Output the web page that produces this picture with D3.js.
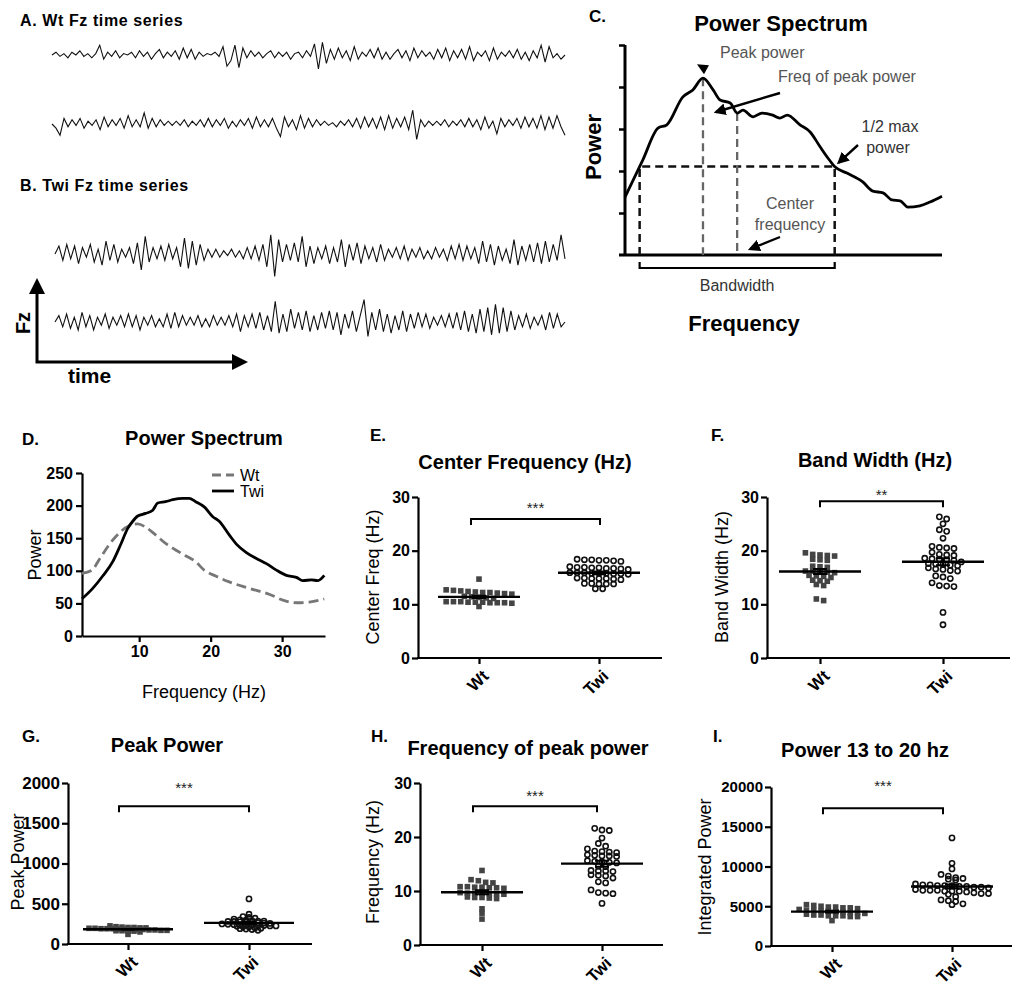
<!DOCTYPE html>
<meta charset="utf-8">
<style>
body { margin: 0; background: #fff; }
text { font-family: "Liberation Sans", Arial, sans-serif; }
</style>
<svg width="1024" height="992"></svg>
<script src="https://cdn.jsdelivr.net/npm/d3@7"></script>
<script>
// ---------- data ----------
// Fz traces (arbitrary units)
var traceWt1 = [0,2,-1,1,-2,2,0,3,-1,1,-2,1,7,-3,2,-1,3,-2,1,0,2,-2,3,-1,2,-3,1,4,-2,2,-1,3,-3,5,-2,4,-3,2,-1,1,0,2,-1,6,-8,-4,7,-9,5,-2,3,-1,2,-2,1,3,-2,2,-1,2,-3,1,2,-2,3,-1,8,-10,9,-6,4,-3,5,-2,3,-4,6,-3,2,-1,4,-2,5,-3,2,-3,1,4,-2,3,-4,5,-2,3,-1,2,-3,4,-2,5,-4,3,-2,4,-3,6,-4,2,-1,3,-4,5,-3,2,-1,3,-2,4,-3,2,-4,3,-2,7,-5,6,-2,1,-3,0];
var traceWt2 = [0,-3,-8,4,-2,3,-1,4,-3,2,-1,3,-4,5,-2,3,-1,4,-3,6,-2,3,-2,8,-3,4,-2,3,-1,2,-1,2,-1,3,-2,2,-1,3,-2,4,-2,3,-1,4,-3,2,-2,3,-1,4,-3,5,-2,3,-2,4,-3,-9,5,-2,3,-4,6,-3,4,-2,3,-1,2,-1,1,-2,2,-1,3,-2,4,-3,5,-2,4,-3,5,-4,6,-3,4,-2,5,-4,10,-11,3,-2,2,-1,2,-1,3,-2,2,-1,3,-2,4,-2,3,-4,5,-3,2,-7,4,-2,3,-1,4,-3,5,-2,4,-3,6,-4,5,-3,6,-2,-8];
var traceTwi1 = [0,5,-4,6,-3,5,-6,4,-2,6,-5,3,-7,8,-4,6,-5,3,-2,4,-6,7,-10,11,-5,4,-3,5,-4,6,-3,4,-8,10,-9,8,-7,6,-4,3,-2,3,-2,2,-1,3,-2,2,-3,4,-3,5,-4,6,-8,12,-14,9,-5,6,-4,7,-5,11,-8,5,-6,4,-3,5,-6,4,-5,9,-8,6,-4,7,-6,5,-3,4,-5,6,-4,3,-2,4,-3,5,-4,3,-2,4,-3,2,-3,4,-2,3,-4,5,-3,6,-4,5,-3,4,-6,8,-5,6,-7,5,-4,3,-6,9,-7,5,-4,6,-5,7,-6,8,-5,6,-4,12,-3];
var traceTwi2 = [0,4,-3,5,-4,3,-5,6,-3,4,-5,3,-2,5,-4,3,-2,4,-3,5,-3,4,-5,3,-2,4,-3,2,-3,5,-4,6,-3,4,-2,3,-2,4,-3,2,-3,4,-2,3,-2,4,-3,5,-6,4,-3,5,-4,6,-5,4,-6,13,-7,5,-6,8,-4,6,-5,7,-6,4,-5,6,-4,7,-5,6,-8,5,-4,7,-6,4,14,-9,6,-5,8,-6,5,-7,4,-5,7,-6,5,-4,6,-3,5,-4,3,-2,4,-3,5,-4,6,-5,7,-6,5,-7,8,-6,9,-8,11,-7,9,-6,7,-5,4,-3,5,-4,3,-2,4,-5,6,-4,5,-3,0];

// panel C schematic spectrum (arbitrary units)
var cFreq  = [0,2.8,5.2,6.6,9.1,10.7,12.3,13.9,15.0,16.6,17.7,18.6,20.2,21.6,23.3,24.4,25.6,27.6,29.2,30.8,32.0,33.1,35.0,37.5,39.1,40.7,42.1,43.4,44.6,46.5,48.1,50];
var cPower = [1.38,2.26,3.02,3.10,3.76,3.93,4.21,3.93,3.69,3.62,3.38,3.45,3.29,3.38,3.33,3.26,3.33,3.10,2.93,2.57,2.31,2.10,1.95,1.74,1.52,1.48,1.31,1.29,1.14,1.17,1.26,1.40];

// panel D spectra
var dFreqWt  = [2,3.4,4.4,5.8,7.2,8.6,9.8,10.9,12.3,13.7,15.1,16.5,17.9,19.1,20.7,22.6,24.5,26.4,28.2,30.1,32,33.8,35.9];
var dPowWt   = [96,101,117,140,158,169,172,167,155,142,132,123,114,101,92,83,76,70,64,55,51,52,57];
var dFreqTwi = [2,3.5,4.9,6.3,7.4,8.4,9.1,9.8,10.9,11.9,12.6,13.7,14.7,16.1,17,17.9,19.1,20.3,21.2,22.6,23.6,25,26.4,27.8,29.2,30.6,32,32.9,34.1,35,35.9];
var dPowTwi  = [57,73,92,114,140,165,176,184,188,193,204,206,209,211,211,206,198,183,176,155,141,128,119,111,101,93,90,85,86,85,93];
var dXTicks = [10,20,30];
var dYTicks = [0,50,100,150,200,250];

var groups = ["Wt", "Twi"];

// E. center frequency (Hz)
var cfWt  = [14.7,12.7,12.6,12.5,12.4,12.3,12.2,12.2,12.1,12.0,11.9,11.5,11.4,11.3,11.2,11.1,10.5,10.5,10.4,10.4,10.3,10.3,10.4,10.5,10.2,10.3,9.6];
var cfTwi = [18.4,18.3,18.3,18.2,18.2,18.1,18.0,17.0,16.9,16.9,16.8,16.8,16.7,16.7,16.6,16.5,15.9,15.9,15.9,15.8,15.8,15.8,15.7,15.7,15.6,14.9,14.9,14.8,14.8,14.8,14.7,14.6,13.9,13.9,13.8,13.8,13.8,12.9,12.9];
// F. band width (Hz)
var bwWt  = [19.6,19.3,19.2,19.1,19.0,18.4,18.3,18.2,17.1,17.0,16.9,16.2,16.2,16.1,16.0,15.9,15.4,15.3,15.2,15.0,14.5,14.4,14.3,13.7,13.5,11.0,10.7];
var bwTwi = [26.3,25.9,25.0,23.9,23.6,22.3,20.8,20.6,20.5,20.4,19.7,19.3,19.2,19.1,18.6,18.5,18.4,18.3,18.2,17.9,17.6,17.5,17.4,17.3,17.2,16.8,16.6,16.5,16.3,16.2,15.3,15.1,14.8,14.0,13.5,13.4,13.3,8.5,6.2];
// G. peak power
var ppWt  = [225,215,210,205,205,200,200,195,195,190,190,190,185,185,185,180,180,175,175,170,170,165,165,160,160,150,120];
var ppTwi = [560,370,340,330,320,310,300,295,290,285,285,280,280,275,270,270,265,260,255,250,245,240,240,235,235,230,230,225,225,220,215,210,200,195,190,185,180,170];
// H. frequency of peak power (Hz)
var fpWt  = [13.8,12.1,11.9,11.6,11.5,10.8,10.7,10.6,10.5,10.6,10.8,10.7,9.7,9.6,9.6,9.6,9.5,9.5,9.4,8.9,8.8,8.8,8.7,8.6,6.7,5.9,4.8];
var fpTwi = [21.6,21.3,21.2,19.8,18.8,18.3,17.8,17.4,17.3,17.2,17.1,16.7,16.6,16.5,16.5,16.4,15.6,15.5,15.4,15.3,15.2,14.6,14.5,13.8,13.7,13.7,13.6,13.0,12.9,12.8,12.4,11.7,11.5,10.2,9.7,9.6,9.5,7.7];
// I. integrated power 13-20 Hz
var ipWt  = [5200,5100,5000,4900,4900,4800,4800,4700,4600,4500,4500,4400,4400,4300,4300,4200,4200,4100,4000,3900,3900,3800,3800,3800,3700,3700,3200];
var ipTwi = [13600,10400,9700,9000,8800,8600,8500,8400,8300,7800,7700,7700,7600,7600,7600,7500,7500,7400,7400,7300,7100,7000,7000,7000,6900,6900,6900,6800,6700,6600,6600,6500,6200,5800,5700,5600,5300,5200];

var hzTicks = [0,10,20,30];
var peakTicks = [0,500,1000,1500,2000];
var intTicks = [0,5000,10000,15000,20000];

// ---------- drawing ----------
var svg = d3.select("svg");
var FONT = '"Liberation Sans", Arial, sans-serif';
var defs = svg.append("defs");
defs.append("marker").attr("id", "ah").attr("viewBox", "0 0 10 10")
  .attr("refX", 8).attr("refY", 5).attr("markerWidth", 5).attr("markerHeight", 5)
  .attr("orient", "auto")
  .append("path").attr("d", "M0,0L10,5L0,10z").attr("fill", "#000");

function label(x, y, s, size, weight, anchor, fill) {
  return svg.append("text").attr("x", x).attr("y", y).text(s)
    .attr("font-size", size).attr("font-weight", weight || "normal")
    .attr("text-anchor", anchor || "start").attr("fill", fill || "#000");
}
function vlabel(x, y, s, size, weight) {
  return svg.append("text").attr("transform", "translate(" + x + "," + y + ") rotate(-90)")
    .attr("text-anchor", "middle").attr("dy", "0.35em").text(s)
    .attr("font-size", size).attr("font-weight", weight || "normal");
}

// A / B traces
function trace(vals, x0, x1, cy, amp) {
  var x = d3.scaleLinear().domain([0, vals.length - 1]).range([x0, x1]);
  var y = d3.scaleLinear().domain([-10, 10]).range([cy + amp, cy - amp]);
  svg.append("path").datum(vals)
    .attr("d", d3.line().x(function(d, i) { return x(i); }).y(function(d) { return y(d); }))
    .attr("fill", "none").attr("stroke", "#111").attr("stroke-width", 1.1);
}
label(20, 26, "A. Wt Fz time series", 16, "bold").attr("letter-spacing", 0.6);
trace(traceWt1, 52, 565, 55, 14);
trace(traceWt2, 52, 565, 124, 14);
label(20, 191, "B. Twi Fz time series", 16, "bold").attr("letter-spacing", 0.6);
trace(traceTwi1, 55, 565, 254, 16);
trace(traceTwi2, 55, 565, 322, 16);
svg.append("path").attr("d", "M37,292V362H234").attr("fill", "none").attr("stroke", "#000").attr("stroke-width", 3);
svg.append("path").attr("d", "M29,294L37,278L45,294Z").attr("fill", "#000");
svg.append("path").attr("d", "M232,354L248,362L232,370Z").attr("fill", "#000");
vlabel(23, 323, "Fz", 20, "bold");
label(68, 383, "time", 21, "bold");

// C schematic
(function() {
  var x = d3.scaleLinear().domain([0, 50]).range([625, 942]);
  var y = d3.scaleLinear().domain([0, 5]).range([255, 45]);
  label(589, 22, "C.", 17, "bold");
  label(781, 31, "Power Spectrum", 22, "bold", "middle");
  vlabel(593, 147, "Power", 22, "bold");
  label(744, 331, "Frequency", 22, "bold", "middle");
  var ax = svg.append("g").attr("transform", "translate(625,0)")
    .call(d3.axisLeft(y).tickValues([1, 2, 3, 4, 5]).tickFormat("").tickSize(6).tickSizeOuter(0));
  ax.select(".domain").remove();
  ax.selectAll("line").attr("stroke-width", 2.5);
  svg.append("path").attr("d", "M" + x(0) + "," + y(5) + "V" + y(0)).attr("stroke", "#000").attr("stroke-width", 3);
  svg.append("path").attr("d", "M619," + y(0) + "H" + x(50)).attr("stroke", "#000").attr("stroke-width", 3);

  var pts = cFreq.map(function(f, i) { return [f, cPower[i]]; });
  var ip = d3.maxIndex(cPower), half = cPower[ip] / 2;
  function cross(a, b) { return a[0] + (half - a[1]) / (b[1] - a[1]) * (b[0] - a[0]); }
  var li = pts.findIndex(function(p) { return p[1] >= half; });
  var fL = li > 0 ? cross(pts[li - 1], pts[li]) : pts[0][0];
  var ri = ip; while (ri < pts.length - 1 && pts[ri + 1][1] >= half) ri++;
  var fR = cross(pts[ri], pts[ri + 1]);
  var fC = (fL + fR) / 2;
  var pC = d3.scaleLinear().domain(cFreq).range(cPower)(fC);

  function dash(d, col, w) {
    svg.append("path").attr("d", d).attr("fill", "none").attr("stroke", col)
      .attr("stroke-width", w).attr("stroke-dasharray", "8,5");
  }
  dash("M" + x(fL) + "," + y(0) + "V" + y(half) + "H" + x(fR) + "V" + y(0), "#111", 2.5);
  dash("M" + x(cFreq[ip]) + "," + y(cPower[ip]) + "V" + y(0), "#666", 2.3);
  dash("M" + x(fC) + "," + y(pC) + "V" + y(0), "#666", 2.3);

  svg.append("path").datum(pts)
    .attr("d", d3.line().x(function(d) { return x(d[0]); }).y(function(d) { return y(d[1]); }).curve(d3.curveMonotoneX))
    .attr("fill", "none").attr("stroke", "#000").attr("stroke-width", 2.8);

  svg.append("path").attr("d", "M" + x(fL) + ",262V268H" + x(fR) + "V262")
    .attr("fill", "none").attr("stroke", "#000").attr("stroke-width", 2.2);
  label((x(fL) + x(fR)) / 2, 291, "Bandwidth", 16, "normal", "middle", "#333");

  var px = x(cFreq[ip]), py = y(cPower[ip]);
  svg.append("path").attr("d", "M" + (px - 6) + "," + (py - 14) + "L" + (px + 6) + "," + (py - 13) + "L" + (px + 1) + "," + (py - 4) + "Z").attr("fill", "#000");
  label(720, 58, "Peak power", 16, "normal", "start", "#555");
  label(778, 82, "Freq of peak power", 16, "normal", "start", "#555");
  function arrow(x1, y1, x2, y2) {
    svg.append("line").attr("x1", x1).attr("y1", y1).attr("x2", x2).attr("y2", y2)
      .attr("stroke", "#000").attr("stroke-width", 2.4).attr("marker-end", "url(#ah)");
  }
  arrow(780, 93, 716, 112);
  label(890, 132, "1/2 max", 16, "normal", "middle", "#333");
  label(888, 153, "power", 16, "normal", "middle", "#333");
  arrow(858, 145, x(fR) + 4, y(half) - 4);
  label(790, 209, "Center", 16, "normal", "middle", "#555");
  label(790, 230, "frequency", 16, "normal", "middle", "#555");
  arrow(780, 237, x(fC) + 13, 249);
})();

function styleAxis(a, size) {
  a.selectAll("path,line").attr("stroke", "#000").attr("stroke-width", 2.2);
  a.selectAll("text").attr("font-size", size).attr("font-weight", "bold").attr("fill", "#000")
    .style("font-family", FONT);
}

// D power spectrum
(function() {
  var x = d3.scaleLinear().domain([2, 36]).range([82, 325]);
  var y = d3.scaleLinear().domain([0, 250]).range([636, 473]);
  label(22, 445, "D.", 17, "bold");
  label(204, 445, "Power Spectrum", 20, "bold", "middle");
  vlabel(35, 555, "Power", 18);
  label(204, 698, "Frequency (Hz)", 18, "normal", "middle");
  var ya = svg.append("g").attr("transform", "translate(82,0)")
    .call(d3.axisLeft(y).tickValues(dYTicks).tickFormat(d3.format("d")).tickSize(6).tickSizeOuter(0).tickPadding(3));
  var xa = svg.append("g").attr("transform", "translate(0,636)")
    .call(d3.axisBottom(x).tickValues(dXTicks).tickFormat(d3.format("d")).tickSize(6).tickSizeOuter(0).tickPadding(4));
  styleAxis(ya, 16);
  styleAxis(xa, 16);
  var line = d3.line().x(function(d) { return x(d[0]); }).y(function(d) { return y(d[1]); }).curve(d3.curveMonotoneX);
  svg.append("path").datum(dFreqWt.map(function(f, i) { return [f, dPowWt[i]]; }))
    .attr("d", line).attr("fill", "none").attr("stroke", "#777").attr("stroke-width", 2.8).attr("stroke-dasharray", "10,5");
  svg.append("path").datum(dFreqTwi.map(function(f, i) { return [f, dPowTwi[i]]; }))
    .attr("d", line).attr("fill", "none").attr("stroke", "#000").attr("stroke-width", 2.8);
  svg.append("line").attr("x1", 212).attr("x2", 234).attr("y1", 475).attr("y2", 475)
    .attr("stroke", "#777").attr("stroke-width", 2.8).attr("stroke-dasharray", "9,5");
  svg.append("line").attr("x1", 212).attr("x2", 234).attr("y1", 491).attr("y2", 491)
    .attr("stroke", "#000").attr("stroke-width", 2.8);
  label(240, 481, "Wt", 16);
  label(240, 497, "Twi", 16);
})();

// column scatter panels
function rows(vals, y, cx, rowH, dx) {
  var s = vals.slice().sort(function(a, b) { return b - a; }), out = [], row = [], start = null;
  function flush() {
    row.forEach(function(v, i) { out.push({ v: v, x: cx + (i - (row.length - 1) / 2) * dx, y: y(v) }); });
    row = [];
  }
  s.forEach(function(v) {
    if (start === null || y(v) - y(start) > rowH) { flush(); start = v; }
    row.push(v);
  });
  flush();
  return out;
}

function scatterPanel(p) {
  var y = d3.scaleLinear().domain([0, p.max]).range([p.bottom, p.top]);
  var x = d3.scalePoint().domain(groups).range(p.cats);
  label(p.lx, p.ly, p.letter, 17, "bold");
  label(p.tx, p.ty, p.title, 20, "bold", "middle");
  vlabel(p.ylx, p.yly, p.ylabel, 18);

  var ya = svg.append("g").attr("transform", "translate(" + p.left + ",0)")
    .call(d3.axisLeft(y).tickValues(p.ticks).tickFormat(d3.format("d")).tickSize(6).tickSizeOuter(0).tickPadding(2));
  styleAxis(ya, p.tickFont);

  var xa = svg.append("g").attr("transform", "translate(0," + p.bottom + ")")
    .call(d3.axisBottom(x).tickSize(6).tickSizeOuter(0));
  xa.select(".domain").remove();
  styleAxis(xa, 17);
  xa.selectAll("text").attr("x", 0).attr("y", 0).attr("dy", "0.35em")
    .attr("text-anchor", "end").attr("transform", "translate(6,15) rotate(-45)");
  svg.append("line").attr("x1", p.left - 1).attr("x2", p.right).attr("y1", p.bottom).attr("y2", p.bottom)
    .attr("stroke", "#000").attr("stroke-width", 2.2);

  var wt = rows(p.wt, y, x("Wt"), p.rowH, p.dx);
  var twi = rows(p.twi, y, x("Twi"), p.rowH, p.dx);
  svg.append("g").selectAll("rect").data(wt).join("rect")
    .attr("x", function(d) { return d.x - 2.8; }).attr("y", function(d) { return d.y - 2.8; })
    .attr("width", 5.6).attr("height", 5.6).attr("fill", "#444");
  svg.append("g").selectAll("circle").data(twi).join("circle")
    .attr("cx", function(d) { return d.x; }).attr("cy", function(d) { return d.y; })
    .attr("r", 2.6).attr("fill", "none").attr("stroke", "#111").attr("stroke-width", 1.6);

  [["Wt", p.wt], ["Twi", p.twi]].forEach(function(gv) {
    var c = x(gv[0]), m = d3.mean(gv[1]), se = d3.deviation(gv[1]) / Math.sqrt(gv[1].length);
    svg.append("line").attr("x1", c - p.mw).attr("x2", c + p.mw).attr("y1", y(m)).attr("y2", y(m))
      .attr("stroke", "#000").attr("stroke-width", 2.4);
    svg.append("path").attr("d", "M" + (c - 7) + "," + y(m + se) + "H" + (c + 7) + "M" + c + "," + y(m + se) +
      "V" + y(m - se) + "M" + (c - 7) + "," + y(m - se) + "H" + (c + 7))
      .attr("fill", "none").attr("stroke", "#000").attr("stroke-width", 2);
  });

  var by = y(p.brY), b1 = x("Wt") + p.brOff[0], b2 = x("Twi") + p.brOff[1];
  svg.append("path").attr("d", "M" + b1 + "," + (by + 6) + "V" + by + "H" + b2 + "V" + (by + 6))
    .attr("fill", "none").attr("stroke", "#000").attr("stroke-width", 2);
  label((b1 + b2) / 2, by + p.starDy, p.stars, 15, "normal", "middle", "#222");
}

scatterPanel({ letter: "E.", lx: 370, ly: 441, title: "Center Frequency (Hz)", tx: 525, ty: 469,
  left: 418, right: 662, top: 497, bottom: 658, max: 30, ticks: hzTicks, cats: [479, 599],
  ylabel: "Center Freq (Hz)", ylx: 373, yly: 577, wt: cfWt, twi: cfTwi,
  brY: 25.9, brOff: [-8, 1], stars: "***", starDy: -6, tickFont: 16, rowH: 4.6, dx: 7.3, mw: 41 });
scatterPanel({ letter: "F.", lx: 711, ly: 441, title: "Band Width (Hz)", tx: 875, ty: 467,
  left: 767, right: 1010, top: 497, bottom: 658, max: 30, ticks: hzTicks, cats: [820, 943],
  ylabel: "Band Width (Hz)", ylx: 722, yly: 577, wt: bwWt, twi: bwTwi,
  brY: 29.2, brOff: [0, 0], stars: "**", starDy: -1, tickFont: 16, rowH: 4.2, dx: 7.3, mw: 41 });
scatterPanel({ letter: "G.", lx: 22, ly: 742, title: "Peak Power", tx: 167, ty: 752,
  left: 68, right: 312, top: 783, bottom: 944, max: 2000, ticks: peakTicks, cats: [128, 249],
  ylabel: "Peak Power", ylx: 18, yly: 862, wt: ppWt, twi: ppTwi,
  brY: 1712, brOff: [-9, 0], stars: "***", starDy: -13, tickFont: 17, rowH: 2.1, dx: 6, mw: 45 });
scatterPanel({ letter: "H.", lx: 371, ly: 742, title: "Frequency of peak power", tx: 528, ty: 755,
  left: 420, right: 663, top: 783, bottom: 945, max: 30, ticks: hzTicks, cats: [482, 602],
  ylabel: "Frequency (Hz)", ylx: 373, yly: 862, wt: fpWt, twi: fpTwi,
  brY: 25.7, brOff: [-9, -5], stars: "***", starDy: -5, tickFont: 16, rowH: 4.2, dx: 7.3, mw: 41 });
scatterPanel({ letter: "I.", lx: 713, ly: 742, title: "Power 13 to 20 hz", tx: 865, ty: 757,
  left: 771, right: 1012, top: 787, bottom: 946, max: 20000, ticks: intTicks, cats: [832, 952],
  ylabel: "Integrated Power", ylx: 705, yly: 867, wt: ipWt, twi: ipTwi,
  brY: 17330, brOff: [-9, -9], stars: "***", starDy: -17, tickFont: 15, rowH: 4.2, dx: 7.3, mw: 41 });
</script>
